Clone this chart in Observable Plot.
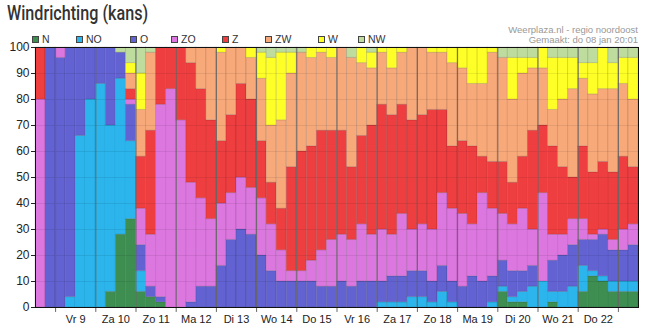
<!DOCTYPE html>
<html>
<head>
<meta charset="utf-8">
<script src="https://cdn.jsdelivr.net/npm/d3@7"></script>
<script src="https://cdn.jsdelivr.net/npm/@observablehq/plot@0.6"></script>
<style>
html, body { margin: 0; padding: 0; background: #fff; }
#wrap { position: relative; width: 645px; height: 329px; overflow: hidden; font-family: "Liberation Sans", Arial, sans-serif; }
#chart { position: absolute; left: 0; top: 0; }
#title { position: absolute; left: 7px; top: 1px; font-family: Roboto, sans-serif; font-size: 21px; font-weight: 500; color: #333; white-space: nowrap; transform: scaleX(0.77); transform-origin: 0 0; }
#src { position: absolute; right: 7px; top: 25px; text-align: right; font-size: 9.5px; line-height: 10px; color: #999; white-space: nowrap; }
.sw { position: absolute; top: 36px; width: 5px; height: 5px; border: 1px solid #444; }
.lt { position: absolute; top: 33px; font-size: 10.5px; line-height: 12px; color: #333; white-space: nowrap; }
#chart svg [aria-label^="y-axis"] text { font-size: 12px; }
</style>
</head>
<body>
<div id="wrap">
  <div id="chart"></div>
  <div id="title">Windrichting (kans)</div>
  <div id="src">Weerplaza.nl - regio noordoost<br>Gemaakt: do 08 jan 20:01</div>
</div>
<script>
// Wind directions (stack order bottom → top) and their colours
const dirs = ["N", "NO", "O", "ZO", "Z", "ZW", "W", "NW"];
const colors = ["#3e8e52", "#2bb5ec", "#6262d2", "#dd77e0", "#ee3e40", "#f8a97a", "#ffff28", "#bedc9e"];

// Day labels (each day = 4 bars, 6-hourly)
const dayLabels = ["Vr 9", "Za 10", "Zo 11", "Ma 12", "Di 13", "Wo 14", "Do 15", "Vr 16", "Za 17", "Zo 18", "Ma 19", "Di 20", "Wo 21", "Do 22"];
const yTicks = [0, 10, 20, 30, 40, 50, 60, 70, 80, 90, 100];

// Probability (%) per direction for each of the 60 time steps
const N  = [0,0,0,0,0,0,0,6,28,34, 6,4,2,0,0,0,0,0,0,0, 0,0,0,0,0,0,0,0,0,0, 0,0,0,0,0,0,0,0,0,0, 0,0,0,0,0,0,6,2,2,0, 0,2,0,0,6,12,10,6,6,6];
const NO = [0,0,0,4,66,80,86,64,60,30, 8,0,0,0,0,0,0,0,0,0, 0,0,0,0,0,0,0,0,0,0, 0,0,0,0,2,2,2,4,4,2, 6,2,0,0,0,2,2,2,4,8, 10,4,6,8,10,2,2,4,4,4];
const O  = [0,100,96,96,34,20,14,30,10,14, 10,4,2,0,0,2,8,8,16,26, 30,28,20,14,10,10,10,10,8,8, 10,8,10,10,8,10,10,10,10,8, 10,8,8,12,10,10,10,10,8,8, 0,12,14,16,10,12,16,12,12,14];
const ZO = [80,0,4,0,0,0,0,0,0,2, 14,20,74,84,72,46,34,26,24,18, 20,18,22,18,12,4,4,8,14,18, 18,18,22,18,20,16,24,16,18,20, 28,28,28,20,34,26,18,18,24,14, 34,10,8,10,8,2,2,4,8,8];
const Z  = [20,0,0,0,0,0,0,0,0,4, 20,40,22,16,28,46,42,38,24,30, 36,34,22,16,16,40,46,44,46,42, 40,28,34,42,48,46,42,42,42,46, 32,24,28,30,14,18,20,16,20,38, 26,34,26,16,28,24,26,26,28,22];
const ZW = [0,0,0,0,0,0,0,0,0,6, 18,30,0,0,0,6,16,28,34,26, 14,16,24,22,34,36,38,34,30,28, 32,42,28,22,20,18,20,28,26,22, 22,32,28,24,28,42,40,32,32,24, 22,14,26,34,26,30,28,32,28,26];
const W  = [0,0,0,0,0,0,0,0,0,4, 14,0,0,0,0,0,0,0,2,0, 0,4,10,26,26,8,0,4,2,4, 0,0,6,6,2,8,2,0,0,2, 2,6,8,14,14,2,0,16,6,4, 8,20,16,12,6,12,16,10,10,16];
const NW = [0,0,0,0,0,0,0,0,2,6, 10,2,0,0,0,0,0,0,0,0, 0,0,2,4,2,2,2,0,0,0, 0,4,0,2,0,0,0,0,0,0, 0,0,0,0,0,0,4,4,4,4, 0,4,4,4,6,6,0,6,4,4];

const series = {N, NO, O, ZO, Z, ZW, W, NW};
const nBars = N.length;

// Long table for the library (zero segments omitted)
const table = [];
for (let i = 0; i < nBars; ++i) {
  for (const dir of dirs) {
    const v = series[dir][i];
    if (v > 0) table.push({i, dir, v});
  }
}

// Day structure: 2 bars of the first (partial) day, then 4 bars per day
const dayBounds = d3.range(2, nBars, 4);
const labelPos = dayLabels.map((_, k) => 2 + 4 * k + 2);

const chart = Plot.plot({
  width: 645,
  height: 329,
  marginTop: 47,
  marginBottom: 22,
  marginLeft: 35,
  marginRight: 7,
  style: {fontFamily: "Liberation Sans, Arial, sans-serif", fontSize: "11px", color: "#222", background: "transparent", overflow: "visible"},
  x: {domain: [0, nBars], ticks: labelPos, tickFormat: d => dayLabels[labelPos.indexOf(d)], tickSize: 0, tickPadding: 8, label: null},
  y: {domain: [0, 100], ticks: yTicks, tickSize: 4, tickPadding: 2, label: null},
  color: {domain: dirs, range: colors},
  marks: [
    Plot.rectY(table, Plot.stackY({x1: "i", x2: d => d.i + 1, y: "v", fill: "dir", stroke: "#000", strokeOpacity: 0.12, strokeWidth: 1})),
    Plot.ruleY(yTicks.slice(1, -1), {stroke: "#000", strokeOpacity: 0.08}),
    Plot.ruleX(dayBounds, {y1: -1.9, y2: 100, stroke: "#666"}),
    Plot.frame({stroke: "#111"})
  ]
});
document.getElementById("chart").appendChild(chart);

// Legend
const legendX = [32, 76, 130, 171, 222, 265, 318, 358];
const wrap = document.getElementById("wrap");
dirs.forEach((d, k) => {
  const sw = document.createElement("div");
  sw.className = "sw";
  sw.style.left = legendX[k] + "px";
  sw.style.background = colors[k];
  wrap.appendChild(sw);
  const t = document.createElement("div");
  t.className = "lt";
  t.style.left = (legendX[k] + 10) + "px";
  t.textContent = d;
  wrap.appendChild(t);
});
</script>
</body>
</html>
